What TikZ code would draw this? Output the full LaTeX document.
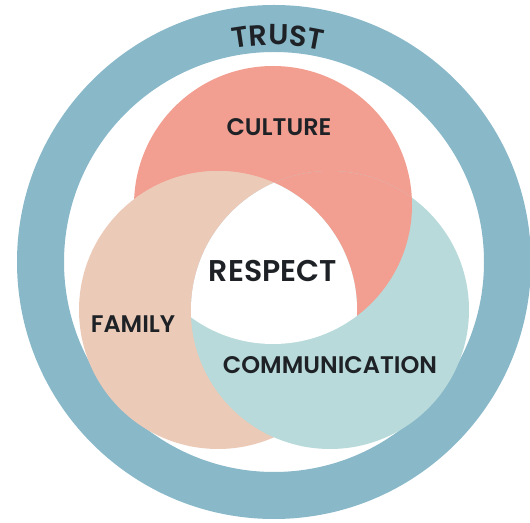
\documentclass[tikz,border=0pt]{standalone}
\usepackage{fontspec}
\setmainfont{Poppins}[BoldFont={* SemiBold}]
\usepackage{xcolor}
\usetikzlibrary{decorations.text}

\definecolor{trustblue}{HTML}{89B8C9}
\definecolor{culturered}{HTML}{F29F91}
\definecolor{familypeach}{HTML}{ECCAB8}
\definecolor{commteal}{HTML}{B8DADA}
\definecolor{ink}{HTML}{1E2226}

\newcommand{\trustfont}{\bfseries\fontsize{29}{29}\selectfont}

\begin{document}
\begin{tikzpicture}[x=1pt, y=1pt]
  % Define styles
  \tikzstyle{word} = [font=\bfseries\fontsize{24}{24}\selectfont, text=ink, inner sep=0pt]
  \tikzstyle{bigword} = [word, font=\bfseries\fontsize{30}{30}\selectfont]

  \useasboundingbox (0,0) rectangle (530,522);

  % Centres
  \coordinate (ring) at (274,260);
  \coordinate (culture) at (273,317);
  \coordinate (family) at (218,212);
  \coordinate (comm) at (330,212);
  \def\rad{139}

  % Outer ring
  \fill[trustblue, even odd rule] (ring) circle (257) (ring) circle (210);

  % The three circles
  \fill[culturered] (culture) circle (\rad);
  \fill[familypeach] (family) circle (\rad);
  \fill[commteal] (comm) circle (\rad);

  % Overlaps: family over culture, culture over comm, comm over family
  \begin{scope}
    \clip (culture) circle (\rad);
    \fill[familypeach] (family) circle (\rad);
  \end{scope}
  \begin{scope}
    \clip (comm) circle (\rad);
    \fill[culturered] (culture) circle (\rad);
  \end{scope}
  \begin{scope}
    \clip (family) circle (\rad);
    \fill[commteal] (comm) circle (\rad);
  \end{scope}
  \begin{scope}
    \clip (culture) circle (\rad);
    \clip (family) circle (\rad);
    \fill[white] (comm) circle (\rad);
  \end{scope}

  % Labels
  \path[decorate, decoration={text along path, text color=ink, text align=center,
    text={|\trustfont|TRUST}}] (ring) ++(114:217) arc (114:64:217);
  \node[word] (culturetext) at (279,395) {CULTURE};
  \node[bigword] (respecttext) at (273,251) {RESPECT};
  \node[word] (familytext) at (133,198) {FAMILY};
  \node[word] (commtext) at (330,157) {COMMUNICATION};
\end{tikzpicture}
\end{document}
